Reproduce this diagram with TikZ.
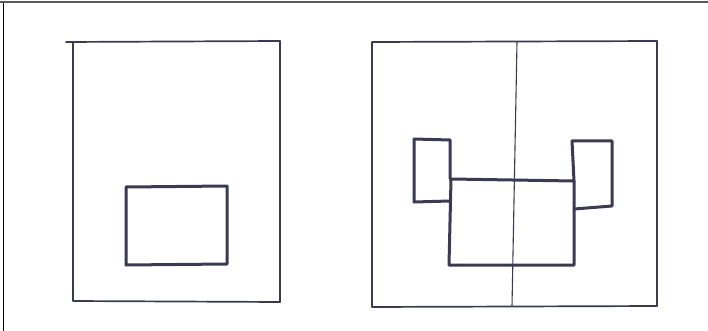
\documentclass[tikz,border=0pt]{standalone}
\usepackage{tikz}
\definecolor{inkblue}{RGB}{58,58,84}
\definecolor{framegray}{RGB}{90,90,90}
\tikzset{
  thinink/.style={draw=inkblue, line width=1.7pt, line join=round, line cap=round},
  hairink/.style={draw=inkblue, line width=1.1pt, line cap=round},
  thickink/.style={draw=inkblue, line width=3pt, line join=round, line cap=round},
  frameline/.style={line width=1.6pt},
}

\begin{document}
\begin{tikzpicture}[x=1pt, y=-1pt]
  \useasboundingbox (0,0) rectangle (708,331);

  % Scan frame (top and left edges only)
  \draw[frameline, framegray] (0,2) -- (708,2);
  \draw[frameline, black] (3.5,3) -- (3.5,331);

  % Left sketch: page with one block
  \draw[thinink] (66,42) -- (280,41) -- (280,302) -- (73,301) -- (73,42);
  \draw[thickink] (126,187) -- (227,186) -- (227,264) -- (126,265) -- cycle;

  % Right sketch: page split by a centre line
  \draw[thinink] (372,42) -- (657,41) -- (657,306) -- (372,307) -- cycle;
  \draw[hairink] (517,42) -- (512,306);

  % Central block with two side wings
  \draw[thickink] (451,179) -- (574,181) -- (574,265) -- (449,265) -- cycle;
  \draw[thickink] (450,201) -- (414,202) -- (414,139) -- (450,140) -- (450,179);
  \draw[thickink] (574,209) -- (612,206) -- (612,141) -- (572,141) -- (574,181);
\end{tikzpicture}
\end{document}
